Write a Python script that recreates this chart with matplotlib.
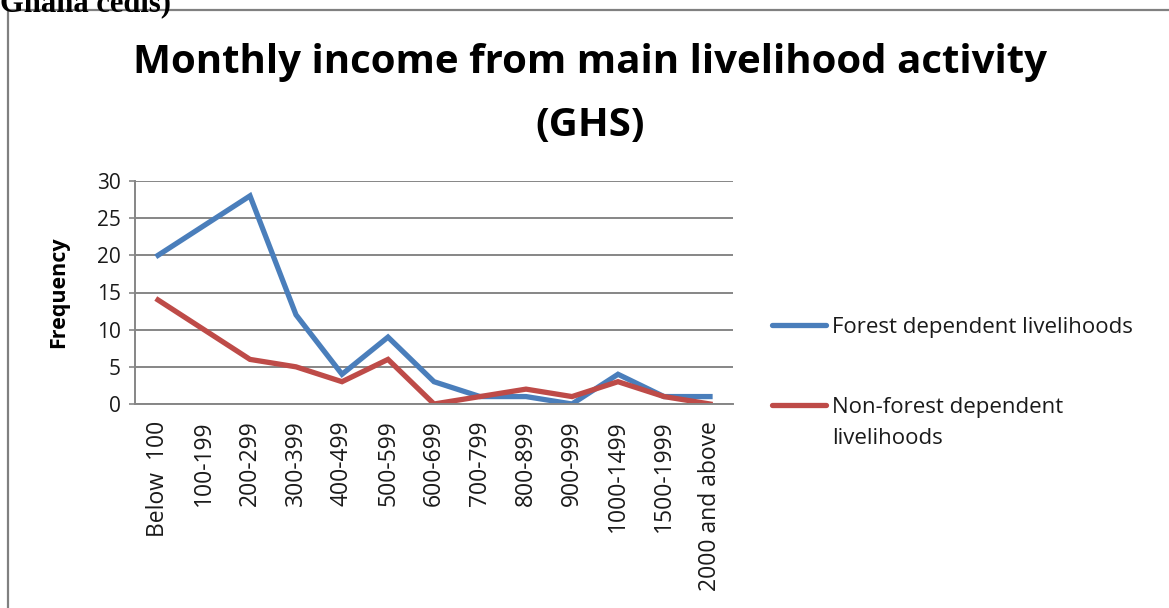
import matplotlib.pyplot as plt
from matplotlib.lines import Line2D
from matplotlib.patches import Rectangle

categories = ["Below  100", "100-199", "200-299", "300-399", "400-499", "500-599",
              "600-699", "700-799", "800-899", "900-999", "1000-1499", "1500-1999",
              "2000 and above"]
forest = [20, 24, 28, 12, 4, 9, 3, 1, 1, 0, 4, 1, 1]
non_forest = [14, 10, 6, 5, 3, 6, 0, 1, 2, 1, 3, 1, 0]
y_ticks = [0, 5, 10, 15, 20, 25, 30]

BLUE = "#4A7EBB"
RED = "#BE4B48"
GRID = "#868686"
TEXT = "#1A1A1A"
FONT = ["Open Sans", "DejaVu Sans"]

plt.rcParams["font.family"] = FONT

W, H = 1169, 608
fig = plt.figure(figsize=(W / 100, H / 100), dpi=100)
fig.patch.set_facecolor("white")

# outer chart border (cut off at right and bottom in the source)
fig.patches.append(Rectangle((8 / W, -0.05), 1.2, (H - 10) / H + 0.05,
                             transform=fig.transFigure, fill=False,
                             edgecolor="#808080", linewidth=1.6))
# caption of the page above the chart, cut off by the crop
fig.text(0.0, 1.0 - 11 / H, "Ghana cedis)", family="Liberation Serif", fontweight="bold",
         fontsize=22, ha="left", va="baseline")

ax = fig.add_axes([135 / W, (H - 404) / H, (733 - 135) / W, (404 - 181) / H])
x = list(range(len(categories)))
ax.plot(x, forest, color=BLUE, linewidth=3.8, solid_joinstyle="miter")
ax.plot(x, non_forest, color=RED, linewidth=3.8, solid_joinstyle="miter")

ax.set_xlim(-0.5, len(categories) - 0.5)
ax.set_ylim(0, 30)
ax.set_yticks(y_ticks)
ax.set_xticks(x, categories, rotation=90)
ax.tick_params(axis="y", labelsize=15, length=4, color=GRID, width=1.2, pad=6,
               labelcolor=TEXT)
ax.tick_params(axis="x", labelsize=16.5, length=0, pad=12, labelcolor=TEXT)
ax.grid(axis="y", color=GRID, linewidth=1.4)
ax.set_axisbelow(True)
for side in ["top", "right"]:
    ax.spines[side].set_visible(False)
ax.spines["left"].set_color(GRID)
ax.spines["left"].set_linewidth(1.4)
ax.spines["bottom"].set_color(GRID)
ax.spines["bottom"].set_linewidth(1.4)

ax.set_ylabel("Frequency", fontsize=15.5, fontweight="bold", labelpad=20)

fig.text(590 / W, 1 - 62 / H, "Monthly income from main livelihood activity",
         fontsize=29, fontweight="bold", ha="center", va="center")
fig.text(590 / W, 1 - 125 / H, "(GHS)",
         fontsize=29, fontweight="bold", ha="center", va="center")

# legend, drawn as Excel does: handle next to first line of each label
legend_items = [(BLUE, "Forest dependent livelihoods", 325),
                (RED, "Non-forest dependent\nlivelihoods", 405)]
for color, label, ypix in legend_items:
    fig.add_artist(Line2D([772 / W, 826 / W], [1 - ypix / H, 1 - ypix / H],
                          transform=fig.transFigure, color=color, linewidth=3.8,
                          solid_capstyle="round"))
    fig.text(832 / W, 1 - (ypix - 8) / H, label, fontsize=16, color=TEXT,
             ha="left", va="top", linespacing=1.6)

fig.savefig("out.png", dpi=100)
